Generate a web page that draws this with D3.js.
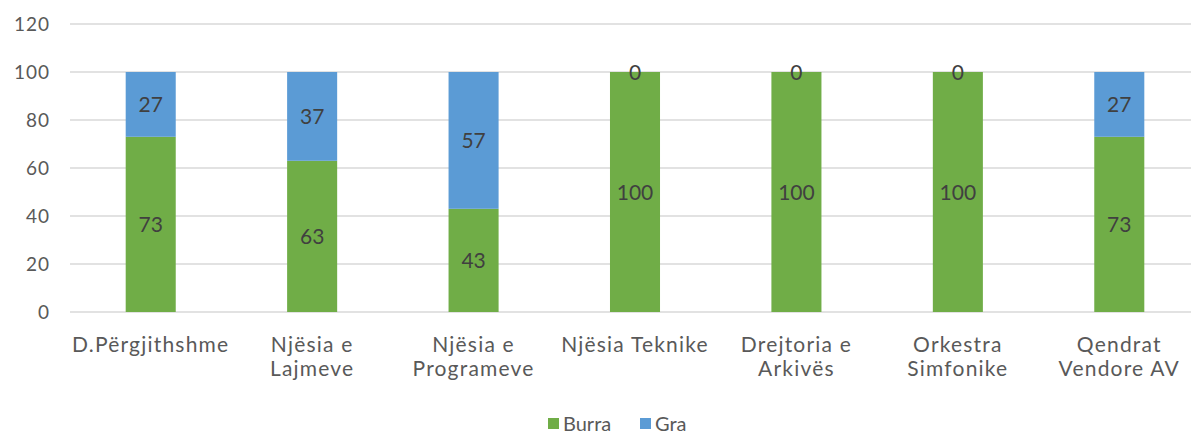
<!DOCTYPE html>
<html><head><meta charset="utf-8">
<script src="https://cdn.jsdelivr.net/npm/d3@7"></script>
<style>body{margin:0;background:#fff;} svg{display:block;font-family:Lato, "Open Sans", sans-serif;}</style>
</head><body>
<svg id="c" width="1191" height="434"></svg>
<script>
const categories = [["D.Përgjithshme"],["Njësia e","Lajmeve"],["Njësia e","Programeve"],["Njësia Teknike"],["Drejtoria e","Arkivës"],["Orkestra","Simfonike"],["Qendrat","Vendore AV"]];
const burra = [73,63,43,100,100,100,73];
const gra = [27,37,57,0,0,0,27];
const yTicks = [0,20,40,60,80,100,120];
const seriesNames = ["Burra","Gra"];
const colors = ["#70AD47","#5B9BD5"];

const svg = d3.select("#c");
const x = d3.scaleBand().domain(d3.range(categories.length)).range([70,1200]).paddingInner(0.69).paddingOuter(0.345);
const y = d3.scaleLinear().domain([0,120]).range([312,24]);

// grid
svg.append("g").selectAll("line").data(yTicks).join("line")
  .attr("x1",70).attr("x2",1191).attr("y1",d=>y(d)).attr("y2",d=>y(d))
  .attr("stroke","#d9d9d9").attr("stroke-width",1.5);
svg.append("g").selectAll("text").data(yTicks).join("text")
  .attr("x",50).attr("y",d=>y(d)).attr("dy","0.36em").attr("text-anchor","end")
  .attr("fill","#595959").attr("font-size",19).attr("letter-spacing",1).text(d=>d);

const data = categories.map((c,i)=>({i, b:burra[i], g:gra[i]}));
const stacks = d3.stack().keys(["b","g"])(data);
stacks.forEach((s,k)=>{
  svg.append("g").selectAll("rect").data(s).join("rect")
    .attr("x",d=>x(d.data.i)).attr("width",x.bandwidth())
    .attr("y",d=>y(d[1])).attr("height",d=>y(d[0])-y(d[1]))
    .attr("fill",colors[k]);
});
stacks.forEach((s,k)=>{
  svg.append("g").selectAll("text").data(s).join("text")
    .attr("x",d=>x(d.data.i)+x.bandwidth()/2).attr("y",d=>y((d[0]+d[1])/2)).attr("dy","0.36em")
    .attr("text-anchor","middle").attr("fill","#404040").attr("font-size",21)
    .text(d=>d[1]-d[0]);
});

// category labels
const cl = svg.append("g");
categories.forEach((lines,i)=>{
  const cx = x(i)+x.bandwidth()/2;
  const t = cl.append("text").attr("x",cx).attr("y",352)
    .attr("text-anchor","middle").attr("fill","#595959").attr("font-size",21).attr("letter-spacing",1.2);
  lines.forEach((l,j)=>t.append("tspan").attr("x",cx).attr("dy",j?24:0).text(l));
});

// legend
const lg = svg.append("g");
const lx = [548,640];
seriesNames.forEach((n,k)=>{
  lg.append("rect").attr("x",lx[k]).attr("y",418).attr("width",11).attr("height",11).attr("fill",colors[k]);
  lg.append("text").attr("x",lx[k]+15).attr("y",424).attr("dy","0.36em").attr("fill","#595959").attr("font-size",20).text(n);
});
</script>
</body></html>
